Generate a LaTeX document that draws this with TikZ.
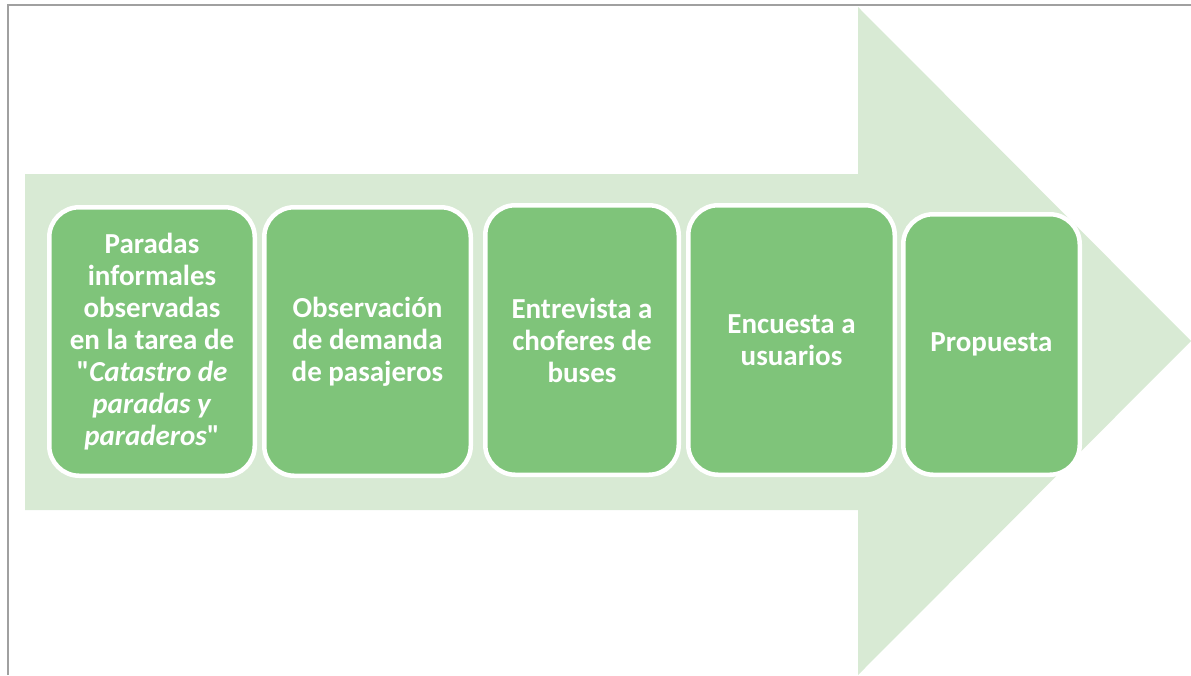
\documentclass[tikz,border=0pt]{standalone}
\usepackage{fontspec}
\setmainfont{Carlito}[Ligatures=TeXOff]
\definecolor{arrowgreen}{RGB}{216,234,212}
\definecolor{boxgreen}{RGB}{127,196,122}
\definecolor{framegray}{RGB}{160,160,160}
\begin{document}
\begin{tikzpicture}[x=1pt,y=-1pt,
  stepbox/.style={draw=white, line width=4.5pt, fill=boxgreen, rounded corners=30pt,
    inner sep=0pt, align=center, text=white,
    font=\fontsize{29}{32}\selectfont\bfseries},
  frameline/.style={draw=framegray, line width=1.5pt}]
\useasboundingbox (0,0) rectangle (1191,675);
% frame
\coordinate (fbl) at (8,675);
\coordinate (ftl) at (8,5);
\coordinate (ftr) at (1191,5);
\draw[frameline] (fbl) -- (ftl) -- (ftr);
% big arrow
\fill[arrowgreen] (25,174) -- (858,174) -- (858,7) -- (1191,341) -- (858,675) -- (858,510) -- (25,510) -- cycle;
% steps
\node[stepbox, minimum width=205.5pt, minimum height=268.5pt] (s1) at (152,341.5)
  {Paradas\\informales\\observadas\\en la tarea de\\"\textit{Catastro de}\\\textit{paradas y}\\\textit{paraderos}"};
\node[stepbox, minimum width=206.5pt, minimum height=268.5pt] (s2) at (367.5,341.5)
  {Observación\\de demanda\\de pasajeros};
\node[stepbox, minimum width=193.5pt, minimum height=269.5pt] (s3) at (582,340)
  {Entrevista a\\choferes de\\buses};
\node[stepbox, minimum width=206.5pt, minimum height=269.5pt] (s4) at (791.5,340)
  {Encuesta a\\usuarios};
\node[stepbox, minimum width=176.5pt, minimum height=260.5pt] (s5) at (991.5,344.5)
  {Propuesta};
\end{tikzpicture}
\end{document}
